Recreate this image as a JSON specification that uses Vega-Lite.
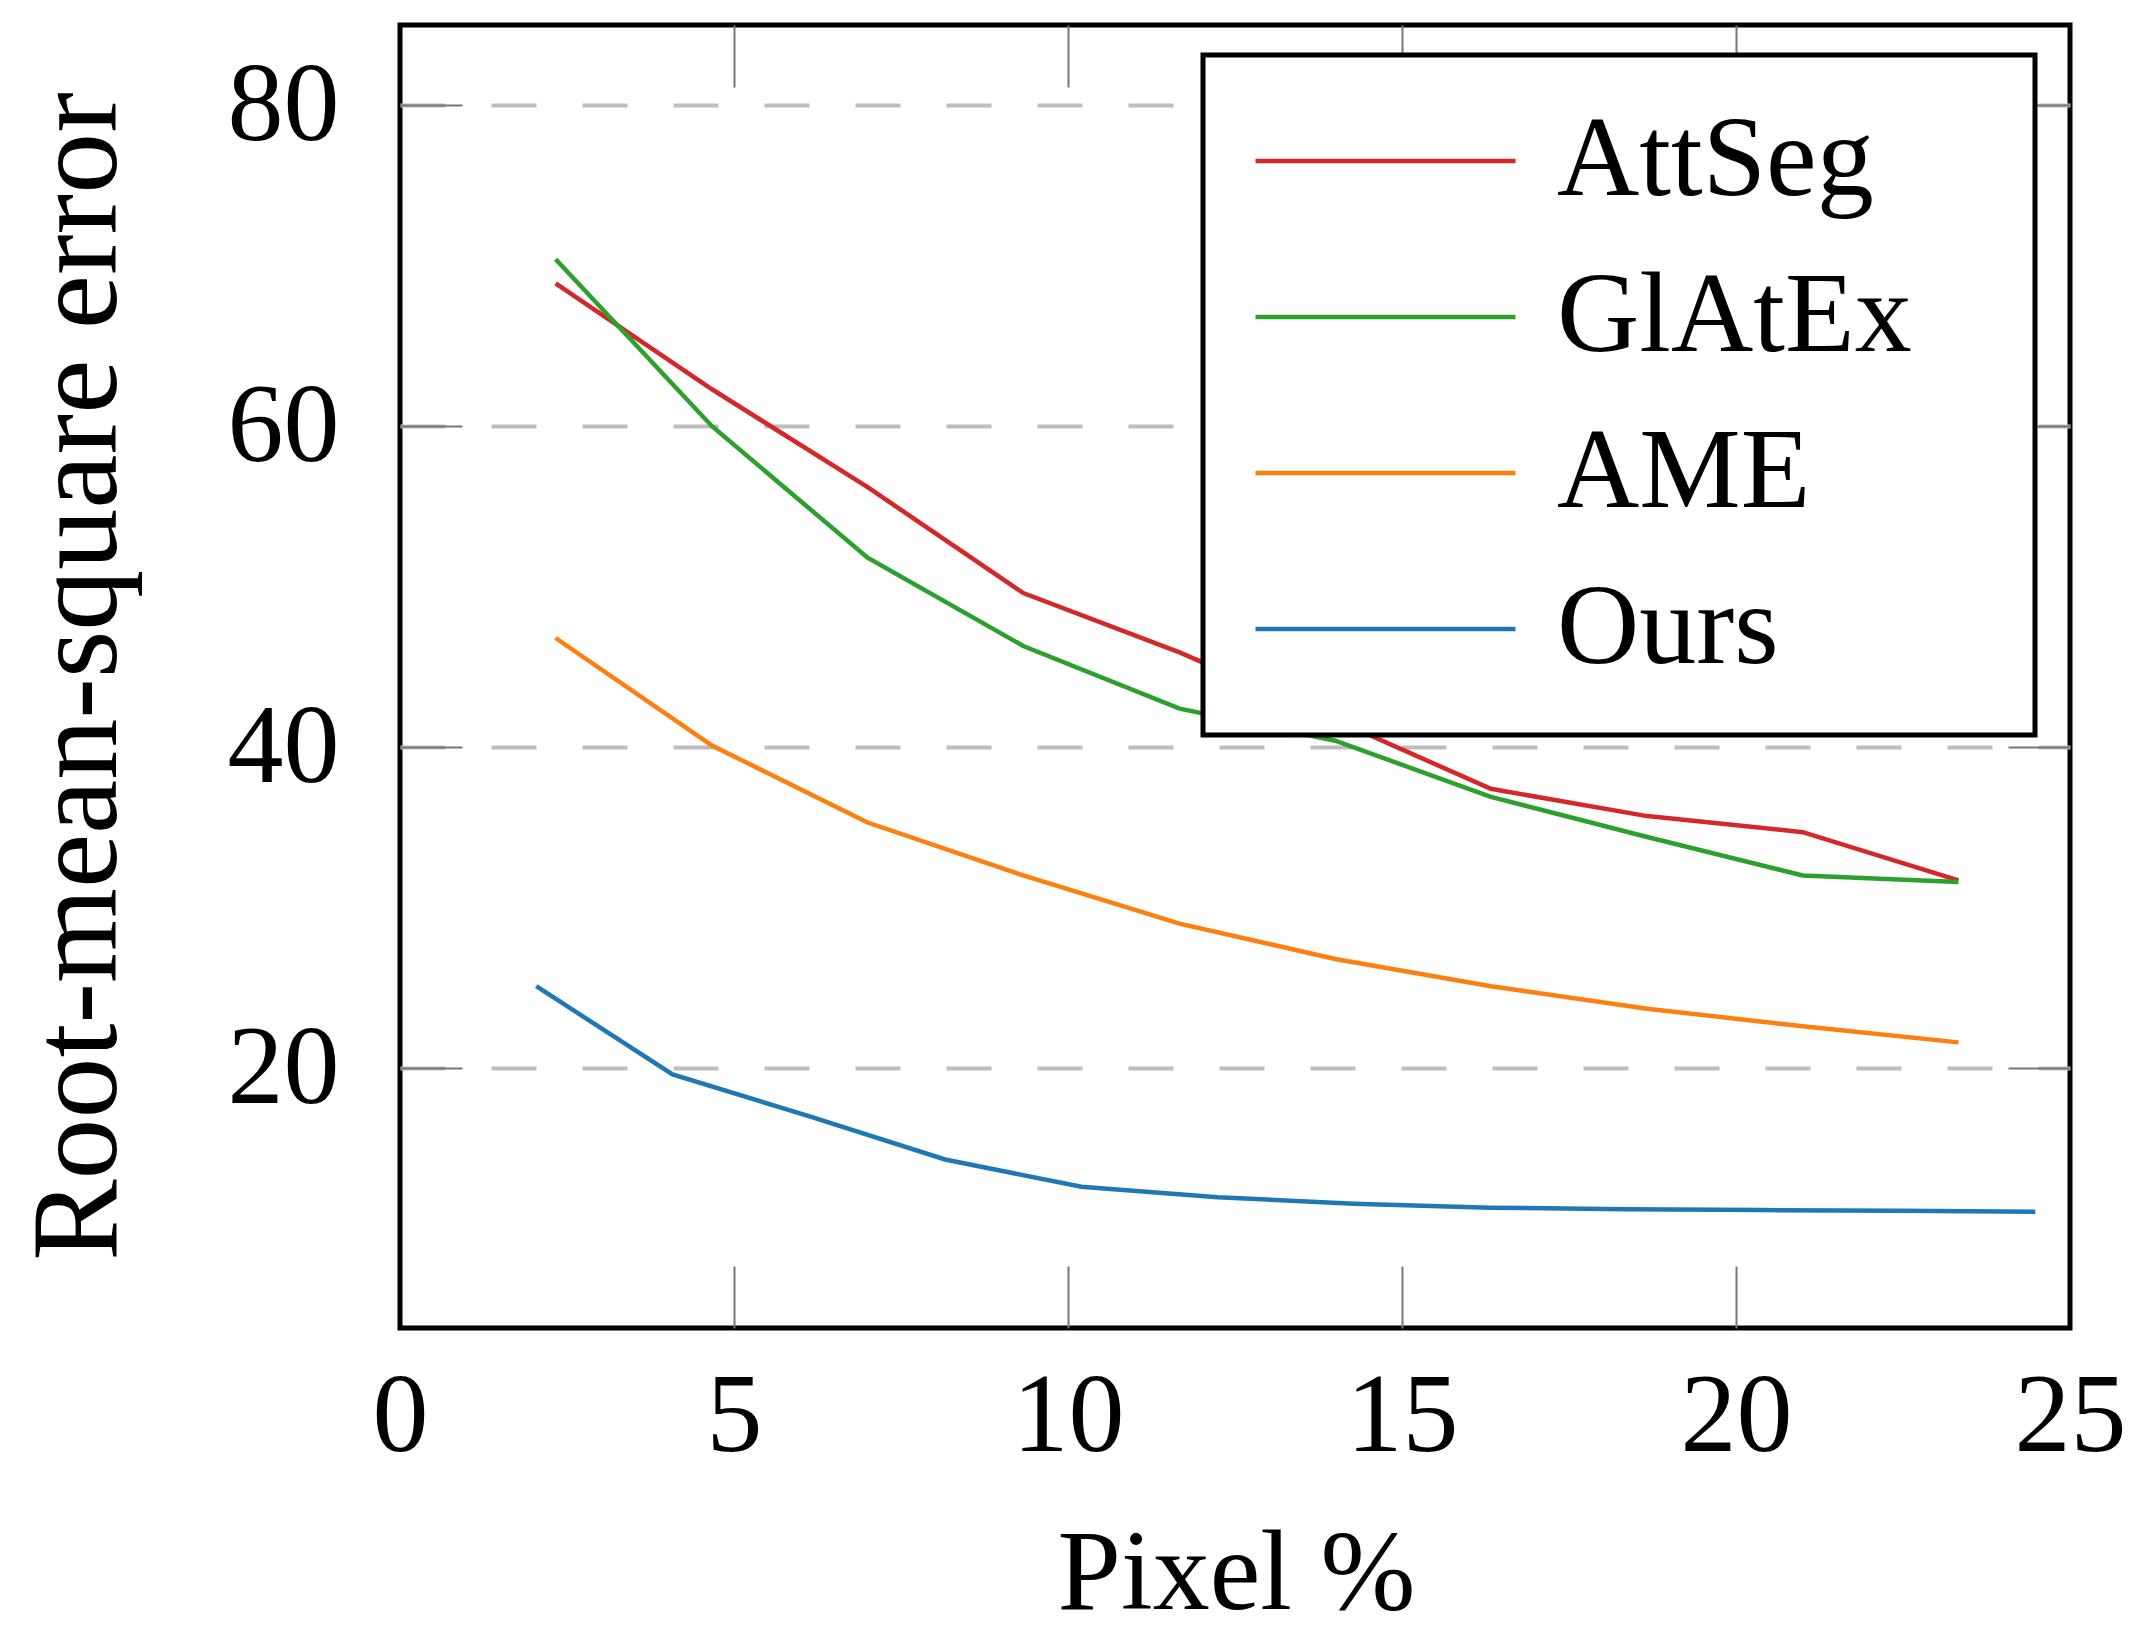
{
  "$schema": "https://vega.github.io/schema/vega-lite/v6.json",
  "width": 1670,
  "height": 1303,
  "autosize": {"type": "none"},
  "padding": {"left": 400, "top": 25, "right": 71, "bottom": 305},
  "background": "white",
  "config": {
    "font": "Liberation Serif",
    "view": {"stroke": "black", "strokeWidth": 5},
    "axis": {
      "labelFont": "Liberation Serif",
      "titleFont": "Liberation Serif",
      "labelColor": "black",
      "titleColor": "black",
      "titleFontWeight": "normal",
      "domain": false,
      "tickColor": {"condition": {"test": "datum.value === 0 || datum.value === 25", "value": "rgba(0,0,0,0)"}, "value": "#777777"},
      "tickWidth": 2,
      "tickSize": -62
    }
  },
  "data": {
    "values": [
      {"method": "AttSeg", "pixel": 2.33, "rmse": 68.9},
      {"method": "AttSeg", "pixel": 4.67, "rmse": 62.3},
      {"method": "AttSeg", "pixel": 7.0, "rmse": 56.2},
      {"method": "AttSeg", "pixel": 9.33, "rmse": 49.6},
      {"method": "AttSeg", "pixel": 11.67, "rmse": 45.9},
      {"method": "AttSeg", "pixel": 14.0, "rmse": 41.7},
      {"method": "AttSeg", "pixel": 16.33, "rmse": 37.4},
      {"method": "AttSeg", "pixel": 18.67, "rmse": 35.7},
      {"method": "AttSeg", "pixel": 21.0, "rmse": 34.7},
      {"method": "AttSeg", "pixel": 23.33, "rmse": 31.7},
      {"method": "GlAtEx", "pixel": 2.33, "rmse": 70.4},
      {"method": "GlAtEx", "pixel": 4.67, "rmse": 60.0},
      {"method": "GlAtEx", "pixel": 7.0, "rmse": 51.8},
      {"method": "GlAtEx", "pixel": 9.33, "rmse": 46.3},
      {"method": "GlAtEx", "pixel": 11.67, "rmse": 42.4},
      {"method": "GlAtEx", "pixel": 14.0, "rmse": 40.4},
      {"method": "GlAtEx", "pixel": 16.33, "rmse": 36.9},
      {"method": "GlAtEx", "pixel": 18.67, "rmse": 34.4},
      {"method": "GlAtEx", "pixel": 21.0, "rmse": 32.0},
      {"method": "GlAtEx", "pixel": 23.33, "rmse": 31.6},
      {"method": "AME", "pixel": 2.33, "rmse": 46.8},
      {"method": "AME", "pixel": 4.67, "rmse": 40.1},
      {"method": "AME", "pixel": 7.0, "rmse": 35.3},
      {"method": "AME", "pixel": 9.33, "rmse": 32.0},
      {"method": "AME", "pixel": 11.67, "rmse": 29.0},
      {"method": "AME", "pixel": 14.0, "rmse": 26.8},
      {"method": "AME", "pixel": 16.33, "rmse": 25.1},
      {"method": "AME", "pixel": 18.67, "rmse": 23.7},
      {"method": "AME", "pixel": 21.0, "rmse": 22.6},
      {"method": "AME", "pixel": 23.33, "rmse": 21.6},
      {"method": "Ours", "pixel": 2.04, "rmse": 25.1},
      {"method": "Ours", "pixel": 4.08, "rmse": 19.6},
      {"method": "Ours", "pixel": 6.12, "rmse": 17.0},
      {"method": "Ours", "pixel": 8.16, "rmse": 14.3},
      {"method": "Ours", "pixel": 10.2, "rmse": 12.6},
      {"method": "Ours", "pixel": 12.24, "rmse": 11.95},
      {"method": "Ours", "pixel": 14.28, "rmse": 11.55},
      {"method": "Ours", "pixel": 16.32, "rmse": 11.3},
      {"method": "Ours", "pixel": 18.36, "rmse": 11.2},
      {"method": "Ours", "pixel": 20.4, "rmse": 11.15},
      {"method": "Ours", "pixel": 22.44, "rmse": 11.1},
      {"method": "Ours", "pixel": 24.48, "rmse": 11.05}
    ]
  },
  "layer": [
    {
      "mark": {"type": "line", "strokeWidth": 4.5, "clip": true},
      "encoding": {
        "x": {
          "field": "pixel", "type": "quantitative",
          "scale": {"domain": [0, 25], "nice": false, "zero": false},
          "axis": {
            "orient": "bottom", "values": [0, 5, 10, 15, 20, 25],
            "title": "Pixel %", "labelFontSize": 112, "labelBaseline": "alphabetic",
            "labelPadding": 184, "labelAngle": 0, "labelFlush": false, "labelOverlap": false,
            "titleFontSize": 114, "titleX": 836, "titleY": 280, "titleBaseline": "alphabetic",
            "titleAlign": "center", "grid": false
          }
        },
        "y": {
          "field": "rmse", "type": "quantitative",
          "scale": {"domain": [3.8, 85], "nice": false, "zero": false},
          "axis": {
            "orient": "left", "values": [20, 40, 60, 80],
            "title": "Root-mean-square error", "labelFontSize": 112, "labelPadding": 123,
            "labelBaseline": "middle", "labelOverlap": false,
            "titleFontSize": 122, "titleAngle": -90, "titleX": -322, "titleY": 651,
            "titleBaseline": "middle", "titleAlign": "center",
            "grid": true, "gridDash": [45, 46], "gridColor": "#bdbdbd", "gridWidth": 4
          }
        },
        "color": {
          "field": "method", "type": "nominal",
          "scale": {"domain": ["AttSeg", "GlAtEx", "AME", "Ours"], "range": ["#d62728", "#2ca02c", "#ff7f0e", "#1f77b4"]},
          "legend": {
            "orient": "none", "legendX": 803, "legendY": 30, "title": null,
            "strokeColor": "black", "fillColor": "white", "cornerRadius": 0,
            "padding": 28, "symbolType": "stroke", "symbolSize": 67600, "symbolStrokeWidth": 4.5,
            "symbolOffset": 22, "clipHeight": 156, "rowPadding": 0,
            "labelFontSize": 114, "labelOffset": 39, "labelFont": "Liberation Serif", "labelColor": "black",
            "labelLimit": 2000, "labelExpr": "datum.label + '\u00a0\u00a0\u00a0\u200a\u200b'",
            "encode": {"legend": {"update": {"strokeWidth": {"value": 5}}}}
          }
        }
      }
    },
    {
      "mark": {"type": "point", "opacity": 0},
      "encoding": {
        "x": {
          "field": "pixel", "type": "quantitative",
          "scale": {"domain": [0, 25], "nice": false, "zero": false},
          "axis": {"orient": "top", "values": [0, 5, 10, 15, 20, 25], "labels": false, "title": null, "grid": false}
        },
        "y": {
          "field": "rmse", "type": "quantitative",
          "scale": {"domain": [3.8, 85], "nice": false, "zero": false},
          "axis": {"orient": "right", "values": [20, 40, 60, 80], "labels": false, "title": null, "grid": false}
        }
      }
    }
  ],
  "resolve": {"axis": {"x": "independent", "y": "independent"}}
}
